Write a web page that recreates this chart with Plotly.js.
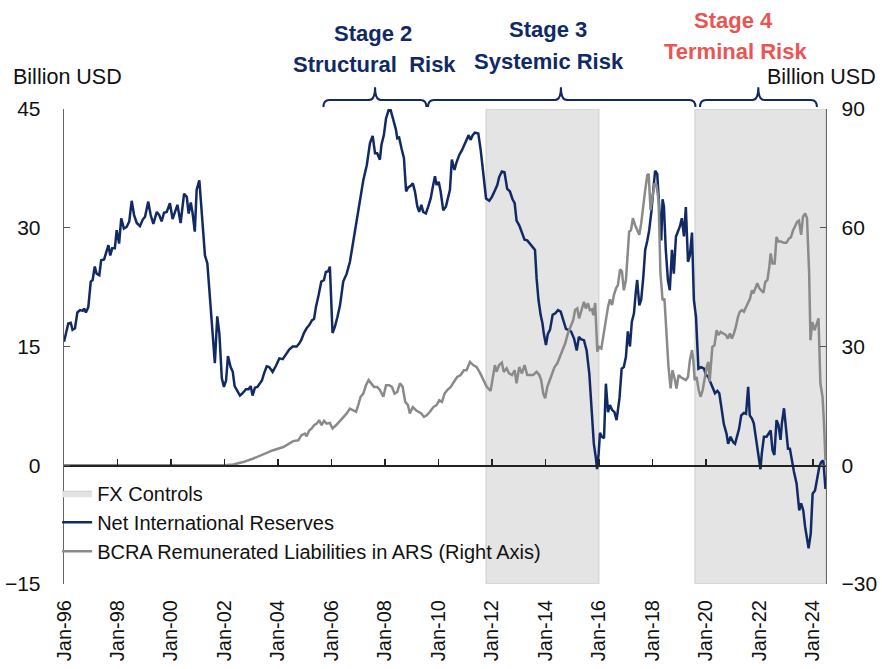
<!DOCTYPE html>
<html>
<head>
<meta charset="utf-8">
<script src="https://cdn.plot.ly/plotly-3.0.1.min.js"></script>
<style>html,body{margin:0;padding:0;background:#fff;}#chart{width:882px;height:669px;}</style>
</head>
<body>
<div id="chart"></div>
<script>
// ---- Data ----
// Net International Reserves, billion USD (left axis); x = decimal year
var nirYears = [1996.00,1996.16,1996.25,1996.32,1996.41,1996.50,1996.60,1996.70,1996.75,1996.82,1996.91,1997.00,1997.07,1997.15,1997.22,1997.32,1997.39,1997.50,1997.57,1997.66,1997.73,1997.80,1997.90,1997.97,1998.06,1998.14,1998.24,1998.34,1998.44,1998.53,1998.62,1998.72,1998.84,1998.94,1999.03,1999.15,1999.24,1999.34,1999.47,1999.56,1999.65,1999.74,1999.84,1999.96,2000.06,2000.16,2000.24,2000.36,2000.49,2000.59,2000.66,2000.74,2000.81,2000.89,2000.96,2001.06,2001.15,2001.27,2001.36,2001.46,2001.56,2001.64,2001.73,2001.81,2001.90,2001.98,2002.06,2002.13,2002.23,2002.31,2002.38,2002.48,2002.58,2002.68,2002.80,2002.90,2002.98,2003.05,2003.14,2003.23,2003.33,2003.40,2003.48,2003.58,2003.67,2003.80,2003.93,2004.05,2004.18,2004.30,2004.42,2004.55,2004.70,2004.80,2004.88,2004.97,2005.07,2005.17,2005.27,2005.35,2005.42,2005.52,2005.62,2005.72,2005.79,2005.88,2005.94,2006.04,2006.13,2006.22,2006.32,2006.44,2006.57,2006.69,2006.82,2006.94,2007.07,2007.19,2007.32,2007.44,2007.54,2007.63,2007.71,2007.81,2007.87,2007.96,2008.04,2008.14,2008.21,2008.31,2008.41,2008.46,2008.53,2008.62,2008.71,2008.79,2008.87,2008.96,2009.04,2009.12,2009.21,2009.28,2009.36,2009.43,2009.53,2009.62,2009.71,2009.78,2009.87,2009.93,2010.01,2010.08,2010.18,2010.28,2010.36,2010.43,2010.50,2010.60,2010.68,2010.78,2010.88,2010.98,2011.05,2011.13,2011.20,2011.28,2011.36,2011.49,2011.58,2011.67,2011.78,2011.90,2012.00,2012.11,2012.20,2012.27,2012.37,2012.47,2012.57,2012.67,2012.77,2012.85,2012.92,2013.02,2013.12,2013.22,2013.32,2013.42,2013.52,2013.61,2013.67,2013.74,2013.82,2013.89,2013.94,2014.02,2014.09,2014.17,2014.27,2014.37,2014.47,2014.57,2014.67,2014.77,2014.87,2014.96,2015.07,2015.17,2015.25,2015.34,2015.44,2015.54,2015.64,2015.74,2015.81,2015.89,2015.93,2015.99,2016.04,2016.11,2016.19,2016.26,2016.34,2016.41,2016.49,2016.58,2016.66,2016.77,2016.85,2016.93,2017.01,2017.08,2017.16,2017.23,2017.31,2017.38,2017.43,2017.51,2017.58,2017.66,2017.73,2017.81,2017.88,2017.96,2018.03,2018.10,2018.18,2018.25,2018.33,2018.38,2018.43,2018.50,2018.58,2018.65,2018.73,2018.80,2018.88,2018.95,2019.03,2019.10,2019.18,2019.25,2019.33,2019.40,2019.48,2019.55,2019.63,2019.67,2019.72,2019.82,2019.93,2020.00,2020.08,2020.17,2020.25,2020.34,2020.43,2020.50,2020.58,2020.67,2020.77,2020.83,2020.92,2021.02,2021.09,2021.17,2021.24,2021.32,2021.42,2021.50,2021.58,2021.64,2021.72,2021.79,2021.87,2021.94,2021.99,2022.04,2022.09,2022.17,2022.27,2022.34,2022.42,2022.49,2022.56,2022.64,2022.71,2022.79,2022.84,2022.92,2022.99,2023.07,2023.14,2023.22,2023.29,2023.39,2023.49,2023.56,2023.64,2023.71,2023.79,2023.84,2023.92,2023.99,2024.08,2024.16,2024.24,2024.31,2024.39,2024.47];
var nirValues = [15.6,17.9,18.0,17.1,17.3,19.3,19.6,19.5,19.8,19.3,20.0,23.2,23.4,25.1,24.2,24.0,25.9,26.0,26.8,27.8,26.5,27.4,27.4,29.7,28.0,31.2,29.9,30.1,30.8,33.4,31.6,30.6,30.2,31.0,31.4,33.3,31.6,30.5,32.0,31.6,30.8,31.9,32.0,33.1,31.1,32.2,32.9,30.6,34.3,33.9,31.8,33.2,31.8,29.5,34.8,36.0,32.2,26.5,25.5,20.9,15.4,12.9,18.8,16.6,11.0,9.9,10.7,13.8,12.4,11.8,10.0,9.4,8.8,9.1,9.6,9.6,10.0,8.8,9.8,9.9,10.4,10.7,11.6,12.5,12.4,11.8,12.6,13.5,13.4,14.0,14.6,15.0,15.0,15.4,15.9,16.7,17.3,17.7,18.3,18.5,20.0,21.5,23.2,23.4,24.4,24.5,25.1,16.7,17.5,18.7,20.2,23.2,24.2,25.7,28.4,31.0,33.5,36.0,37.9,40.7,41.6,39.4,39.4,38.6,40.5,41.7,43.8,44.9,44.9,43.6,42.4,41.3,41.4,40.0,38.8,34.6,35.1,35.3,35.6,34.6,32.7,32.0,32.9,32.0,31.8,32.7,33.7,35.0,36.5,35.4,35.8,34.6,32.2,32.7,33.7,34.8,38.6,37.3,38.3,39.2,39.8,40.5,41.2,41.7,41.1,41.7,42.0,41.9,39.8,36.7,33.7,33.4,33.9,34.7,35.4,36.4,37.1,37.0,34.9,34.6,33.6,33.1,30.9,30.3,29.4,28.5,28.4,28.0,27.6,27.2,23.6,20.9,19.0,17.9,16.6,15.2,16.6,17.1,19.0,19.2,19.6,19.4,18.3,17.2,17.1,16.9,16.0,14.5,16.2,15.9,15.8,14.5,11.6,6.3,2.7,0.8,-0.5,1.5,4.1,3.6,3.4,10.3,6.7,7.6,7.0,6.7,5.7,8.5,12.2,12.4,13.7,16.9,15.0,18.1,19.2,21.9,23.4,20.2,20.9,23.8,27.2,28.4,29.7,32.0,34.8,37.2,36.8,33.1,28.4,33.6,32.7,27.2,23.4,22.1,27.2,24.2,28.9,29.5,30.2,31.2,28.9,32.6,25.7,26.5,29.4,20.9,18.7,15.8,12.2,12.4,12.2,11.4,11.2,10.5,9.8,9.1,9.4,9.1,7.3,5.2,4.0,2.7,3.6,2.9,2.7,3.6,4.6,6.3,6.6,6.5,9.9,6.3,5.9,5.3,3.6,1.5,0.5,-0.5,1.5,3.6,3.6,4.0,4.4,1.9,1.3,5.7,5.1,3.2,5.3,7.2,4.6,2.1,2.1,0.2,-0.8,-2.3,-5.7,-4.8,-5.7,-7.8,-9.9,-10.5,-8.6,-3.6,-3.2,-1.7,-0.2,0.4,0.6,-3.0];

// BCRA remunerated liabilities in ARS, billion USD (right axis)
var liabYears = [1996.00,2002.00,2002.33,2002.70,2003.08,2003.45,2003.82,2004.20,2004.45,2004.57,2004.76,2004.88,2005.01,2005.07,2005.17,2005.26,2005.35,2005.45,2005.54,2005.63,2005.72,2005.82,2005.94,2006.04,2006.17,2006.30,2006.44,2006.57,2006.69,2006.82,2006.92,2007.00,2007.09,2007.19,2007.29,2007.39,2007.49,2007.59,2007.71,2007.81,2007.94,2008.04,2008.16,2008.26,2008.36,2008.46,2008.56,2008.66,2008.76,2008.86,2008.93,2009.04,2009.16,2009.26,2009.36,2009.46,2009.56,2009.68,2009.81,2009.93,2010.03,2010.13,2010.23,2010.33,2010.46,2010.58,2010.70,2010.83,2010.95,2011.05,2011.18,2011.30,2011.43,2011.55,2011.67,2011.80,2011.95,2012.05,2012.11,2012.17,2012.27,2012.37,2012.44,2012.55,2012.64,2012.75,2012.85,2012.92,2013.02,2013.12,2013.22,2013.32,2013.42,2013.54,2013.67,2013.77,2013.84,2013.92,2013.99,2014.07,2014.14,2014.24,2014.34,2014.44,2014.54,2014.64,2014.74,2014.84,2014.94,2015.04,2015.11,2015.19,2015.26,2015.35,2015.44,2015.51,2015.59,2015.66,2015.74,2015.79,2015.86,2015.94,2016.01,2016.09,2016.16,2016.26,2016.34,2016.41,2016.49,2016.56,2016.64,2016.71,2016.79,2016.86,2016.93,2017.01,2017.08,2017.13,2017.20,2017.27,2017.35,2017.43,2017.51,2017.58,2017.66,2017.73,2017.81,2017.86,2017.93,2018.00,2018.08,2018.15,2018.23,2018.30,2018.38,2018.45,2018.53,2018.60,2018.68,2018.75,2018.83,2018.90,2018.98,2019.05,2019.15,2019.25,2019.33,2019.40,2019.48,2019.53,2019.58,2019.65,2019.73,2019.80,2019.88,2019.96,2020.03,2020.09,2020.14,2020.24,2020.32,2020.40,2020.47,2020.55,2020.65,2020.75,2020.82,2020.90,2020.97,2021.05,2021.12,2021.20,2021.27,2021.35,2021.42,2021.50,2021.57,2021.65,2021.72,2021.77,2021.85,2021.92,2022.00,2022.07,2022.15,2022.22,2022.30,2022.37,2022.42,2022.49,2022.57,2022.64,2022.71,2022.81,2022.91,2023.01,2023.11,2023.18,2023.26,2023.33,2023.41,2023.48,2023.56,2023.63,2023.71,2023.78,2023.86,2023.91,2023.98,2024.06,2024.13,2024.21,2024.28,2024.36,2024.41,2024.47];
var liabValues = [0,0,0.2,0.8,1.7,2.8,3.8,4.6,5.5,6.1,6.3,7.6,8.0,7.3,8.8,9.3,10.1,10.5,11.4,10.1,11.2,10.5,10.7,9.3,10.1,11.0,12.2,13.1,14.3,13.9,13.5,15.2,17.3,18.1,20.2,21.5,20.7,19.8,19.8,19.0,17.3,20.2,20.2,19.8,18.1,18.5,20.7,19.8,16.0,15.2,13.1,14.7,13.9,13.5,13.1,12.2,12.6,13.5,14.7,15.2,16.4,16.0,18.1,19.0,19.8,21.1,22.3,22.8,24.0,24.0,26.1,25.3,24.8,23.4,21.7,19.9,18.8,23.2,25.3,23.6,25.3,25.9,23.6,24.5,23.2,22.8,24.0,20.7,24.8,23.2,25.3,22.8,22.8,22.8,23.6,22.8,21.5,18.1,16.9,19.8,21.1,22.8,24.8,25.7,27.4,29.1,30.8,33.3,35.0,36.7,39.2,39.6,37.1,39.6,41.3,39.6,40.9,39.2,39.4,37.9,41.0,28.7,29.9,29.5,32.5,35.8,40.0,41.9,40.5,43.0,44.7,45.5,49.5,49.0,44.2,46.8,56.0,59.0,59.4,62.4,60.7,59.4,58.2,61.1,66.2,69.5,73.3,73.6,64.5,67.8,71.2,70.8,67.0,48.5,41.7,42.1,33.3,24.9,19.4,24.0,21.9,19.4,22.8,22.3,21.9,21.5,22.3,26.5,29.1,26.5,21.5,22.3,19.0,17.3,19.0,22.3,24.9,26.1,21.1,29.9,30.3,34.1,32.9,33.7,33.3,32.9,32.0,33.3,32.0,33.3,35.0,37.5,38.8,39.2,38.8,40.0,41.3,42.1,44.2,43.4,44.7,46.0,44.7,44.2,43.6,46.3,46.8,50.1,53.5,51.0,51.0,57.7,56.5,56.5,56.2,56.2,57.3,57.6,59.4,60.3,61.5,61.8,58.2,62.8,63.6,62.4,48.5,31.6,36.2,34.1,35.8,37.1,20.7,17.3,11.4,1.3];

// FX controls periods (decimal years)
var fxStart = [2011.78, 2019.59];
var fxEnd   = [2016.00, 2024.49];

// Axis ticks
var xTickVals = [1996,1998,2000,2002,2004,2006,2008,2010,2012,2014,2016,2018,2020,2022,2024];
var xTickText = ['Jan-96','Jan-98','Jan-00','Jan-02','Jan-04','Jan-06','Jan-08','Jan-10','Jan-12','Jan-14','Jan-16','Jan-18','Jan-20','Jan-22','Jan-24'];
var leftTicks = [-15,0,15,30,45];
var rightTicks = [-30,0,30,60,90];
var xRange = [1996, 2024.49];

// Stage braces (decimal years)
var braceStart = [2005.70, 2009.61, 2019.78];
var braceTip   = [2007.63, 2014.58, 2021.96];
var braceEnd   = [2009.55, 2019.61, 2024.15];

// ---- Build ----
var NAVY = '#112a66', GREY = '#8a8a8a', FONT = 'Liberation Sans, Arial, sans-serif';

var fxX = [], fxY = [];
for (var i = 0; i < fxStart.length; i++) {
  fxX.push(fxStart[i], fxStart[i], fxEnd[i], fxEnd[i], fxStart[i], null);
  fxY.push(leftTicks[0], leftTicks[4], leftTicks[4], leftTicks[0], leftTicks[0], null);
}

var traces = [
  {x: fxX, y: fxY, type: 'scatter', mode: 'lines', fill: 'toself', fillcolor: '#e4e4e4',
   line: {color: '#cdcdcd', width: 1}, name: 'FX Controls', hoverinfo: 'skip'},
  {x: nirYears, y: nirValues, type: 'scatter', mode: 'lines', name: 'Net International Reserves',
   line: {color: NAVY, width: 2.5}},
  {x: liabYears, y: liabValues, type: 'scatter', mode: 'lines', yaxis: 'y2',
   name: 'BCRA Remunerated Liabilities in ARS (Right Axis)', line: {color: GREY, width: 2.5}},
  {x: [], y: [], xaxis: 'x2', yaxis: 'y', type: 'scatter', mode: 'lines', showlegend: false, hoverinfo: 'skip'}
];

var shapes = [];
var yb = 1.004, yh = 1.019, yt = 1.046, r = 0.22;
for (var j = 0; j < braceStart.length; j++) {
  var a = braceStart[j], m = braceTip[j], b = braceEnd[j];
  var p = 'M ' + a + ',' + yb + ' Q ' + a + ',' + yh + ' ' + (a + r) + ',' + yh +
          ' L ' + (m - r) + ',' + yh + ' Q ' + m + ',' + yh + ' ' + m + ',' + yt +
          ' Q ' + m + ',' + yh + ' ' + (m + r) + ',' + yh +
          ' L ' + (b - r) + ',' + yh + ' Q ' + b + ',' + yh + ' ' + b + ',' + yb;
  shapes.push({type: 'path', xref: 'x', yref: 'paper', path: p, line: {color: NAVY, width: 2}});
}

function ann(text, x, y, color, size, bold, xanchor) {
  return {text: bold ? '<b>' + text + '</b>' : text, xref: 'paper', yref: 'paper', x: x, y: y,
    xanchor: xanchor || 'center', yanchor: 'middle', showarrow: false,
    font: {family: FONT, size: size, color: color}};
}
var RED = '#ec5452';
var annotations = [
  ann('Stage 2', 0.406, 1.160, NAVY, 22, true),
  ann('Structural\u00a0 Risk', 0.408, 1.093, NAVY, 22, true),
  ann('Stage 3', 0.635, 1.168, NAVY, 22, true),
  ann('Systemic Risk', 0.636, 1.101, NAVY, 22, true),
  ann('Stage 4', 0.878, 1.187, RED, 22, true),
  ann('Terminal Risk', 0.881, 1.122, RED, 22, true),
  ann('Billion USD', -0.070, 1.067, '#111', 21.5, false, 'left'),
  ann('Billion USD', 1.068, 1.067, '#111', 21.5, false, 'right')
];

var layout = {
  width: 882, height: 669,
  margin: {l: 64, r: 56, t: 109, b: 85},
  paper_bgcolor: '#fff', plot_bgcolor: '#fff',
  font: {family: FONT, color: '#111', size: 20},
  showlegend: true,
  legend: {x: -0.009, y: 0.232, xanchor: 'left', yanchor: 'top', bgcolor: 'rgba(0,0,0,0)',
           font: {family: FONT, size: 20, color: '#111'}, itemwidth: 30, tracegroupgap: 0},
  xaxis: {type: 'linear', range: xRange, tickvals: xTickVals, ticktext: xTickText, tickangle: -90,
          showgrid: false, zeroline: false, showline: false, ticks: '', ticklabelstandoff: 11,
          tickfont: {family: FONT, size: 20, color: '#111'}, fixedrange: true},
  xaxis2: {type: 'linear', overlaying: 'x', anchor: 'free', position: 0.25, range: xRange,
           tickvals: xTickVals, showticklabels: false, ticks: 'inside', ticklen: 6, tickwidth: 1.3,
           tickcolor: '#222', showline: true, linecolor: '#222', linewidth: 1.6,
           showgrid: false, zeroline: false},
  yaxis: {range: [leftTicks[0], leftTicks[4]], tickvals: leftTicks, ticks: 'inside', ticklen: 6,
          tickcolor: '#555', showline: true, linecolor: '#666', linewidth: 1.3, showgrid: false,
          zeroline: false, ticklabelstandoff: 18, tickfont: {family: FONT, size: 21, color: '#111'}},
  yaxis2: {range: [rightTicks[0], rightTicks[4]], tickvals: rightTicks, overlaying: 'y', side: 'right',
           ticks: 'inside', ticklen: 6, tickcolor: '#555', showline: true, linecolor: '#666', linewidth: 1.3,
           showgrid: false, zeroline: false, ticklabelstandoff: 10,
           tickfont: {family: FONT, size: 21, color: '#111'}},
  shapes: shapes,
  annotations: annotations
};

Plotly.newPlot('chart', traces, layout, {staticPlot: true, displayModeBar: false});
</script>
</body>
</html>
